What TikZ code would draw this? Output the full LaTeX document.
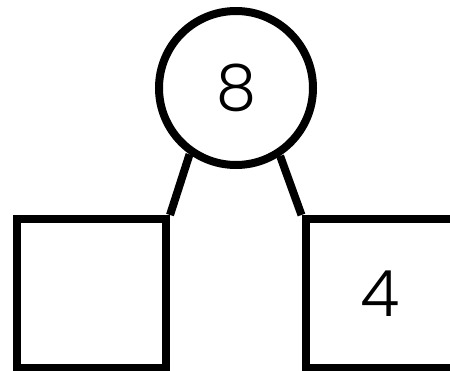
\documentclass[tikz,border=0pt]{standalone}
\usepackage{fontspec}
\setmainfont{Poppins Light}
\usetikzlibrary{positioning}

\begin{document}
\begin{tikzpicture}[
    x=1pt, y=-1pt,
    font=\fontsize{64}{70}\selectfont,
    total/.style={draw, circle, line width=8pt, minimum size=154pt, inner sep=0pt},
    part/.style={draw, rectangle, line width=8pt, minimum size=149pt, inner sep=0pt},
    link/.style={line width=8pt}
]
\useasboundingbox (0,0) rectangle (450,370);
\clip (0,0) rectangle (450,370);
\fill[white] (0,0) rectangle (450,370);

\node[total] (whole) at (236,88) {8};
\node[part] (left) at (91.5,293.5) {};
\node[part] (right) at (380,293.5) {4};

\draw[link] (whole.235) -- (left.north east);
\draw[link] (whole.303) -- (right.north west);
\end{tikzpicture}
\end{document}
